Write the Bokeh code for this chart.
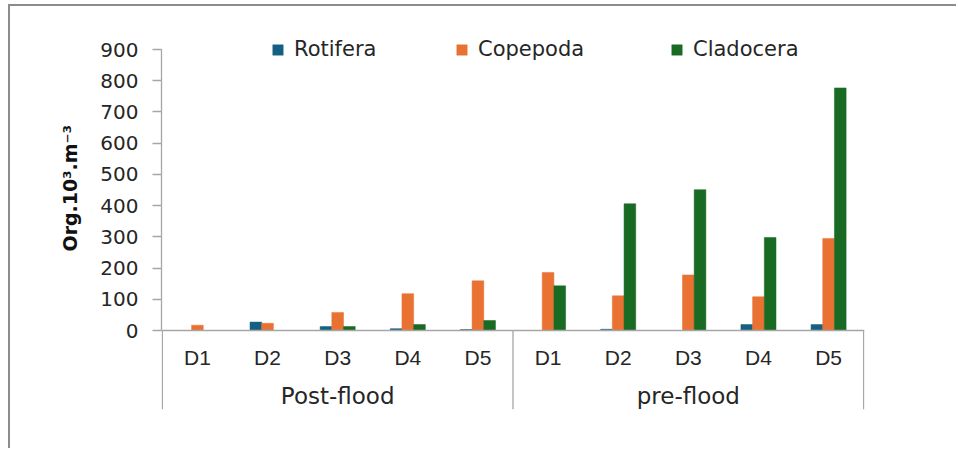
from bokeh.plotting import figure
from bokeh.models import FactorRange, FixedTicker, Span, Legend, LegendItem, ColumnDataSource, Range1d, Title
from bokeh.transform import dodge
from bokeh.core.properties import value
from bokeh.embed import file_html
from bokeh.resources import INLINE

# ---- data ----
groups = ["Post-flood", "pre-flood"]
days = ["D1", "D2", "D3", "D4", "D5"]
series = ["Rotifera", "Copepoda", "Cladocera"]
rotifera = [0, 27, 13, 6, 3, 0, 4, 0, 19, 19]
copepoda = [17, 23, 58, 118, 159, 186, 111, 178, 108, 295]
cladocera = [0, 0, 13, 19, 32, 143, 406, 451, 298, 777]
yticks = [0, 100, 200, 300, 400, 500, 600, 700, 800, 900]
y_label = "Org.10³.m⁻³"
colors = ["#156082", "#E97132", "#196B24"]

factors = [(g, d) for g in groups for d in days]

AXIS_COLOR = "#a6a6a6"
TEXT_COLOR = "#262626"

FRAME_H = 373
PX_PER_UNIT = 281 / 900.0
Y_BOTTOM = -253
Y_AXIS_TOP = 900
Y_TOP = Y_BOTTOM + FRAME_H / PX_PER_UNIT

x_range = FactorRange(*factors, factor_padding=0, group_padding=0, subgroup_padding=0,
                      range_padding=0.012, range_padding_units="absolute")

p = figure(
    x_range=x_range, y_range=Range1d(Y_BOTTOM, Y_TOP),
    width=946, height=442,
    frame_width=703, frame_height=FRAME_H,
    min_border_left=151, min_border_top=30, min_border_right=92, min_border_bottom=39,
    x_axis_location=None,
    output_backend="svg", toolbar_location=None,
)
p.styles = {"border-top": "2px solid #8c8c8c", "border-left": "2px solid #8c8c8c",
            "margin-left": "8px", "margin-top": "4px"}
p.outline_line_color = None
p.xgrid.visible = False
p.ygrid.visible = False
p.background_fill_color = "white"

src = ColumnDataSource(dict(x=factors, Rotifera=rotifera, Copepoda=copepoda, Cladocera=cladocera))

bar_w = 1.0 / 6
offsets = [-bar_w, 0, bar_w]
renderers = []
for s, c, off in zip(series, colors, offsets):
    r = p.vbar(x=dodge("x", off, range=p.x_range), top=s, width=bar_w, source=src,
               fill_color=c, line_color=c, line_width=0.5)
    renderers.append(r)

# y axis
ya = p.yaxis[0]
ya.ticker = FixedTicker(ticks=yticks)
ya.bounds = (0, Y_AXIS_TOP)
ya.minor_tick_line_color = None
ya.major_tick_in = 0
ya.major_tick_out = 9
ya.axis_line_color = AXIS_COLOR
ya.axis_line_width = 1.3
ya.major_tick_line_color = AXIS_COLOR
ya.major_tick_line_width = 1.3
ya.major_label_standoff = 14
ya.major_label_text_font = "DejaVu Sans"
ya.major_label_text_font_size = "20px"
ya.major_label_text_color = TEXT_COLOR

# y axis title placed alongside the 0..900 part of the axis
p.add_layout(Title(text=y_label, align="left", offset=158, standoff=34,
                   text_font="DejaVu Sans", text_font_style="bold",
                   text_font_size="19px", text_color="#111111"), "left")

# x axis line at zero
p.add_layout(Span(location=0, dimension="width", line_color=AXIS_COLOR, line_width=1.3))

# group separators (start of each group, end of last group)
sep_start = ColumnDataSource(dict(x=[(g, days[0]) for g in groups],
                                  y0=[0] * len(groups), y1=[Y_BOTTOM] * len(groups)))
p.segment(x0=dodge("x", -0.5, range=p.x_range), x1=dodge("x", -0.5, range=p.x_range),
          y0="y0", y1="y1", source=sep_start, line_color=AXIS_COLOR, line_width=1.3)
sep_end = ColumnDataSource(dict(x=[(groups[-1], days[-1])], y0=[0], y1=[Y_BOTTOM]))
p.segment(x0=dodge("x", 0.5, range=p.x_range), x1=dodge("x", 0.5, range=p.x_range),
          y0="y0", y1="y1", source=sep_end, line_color=AXIS_COLOR, line_width=1.3)

# category labels
day_y = -85
grp_y = -211
p.text(x=factors, y=[day_y] * len(factors), text=[f[1] for f in factors],
       text_font=value("Liberation Sans"), text_font_size="21px", text_color=TEXT_COLOR,
       text_align="center", text_baseline="middle")
p.text(x=[(g, days[2]) for g in groups], y=[grp_y] * len(groups), text=groups,
       text_font=value("DejaVu Sans"), text_font_size="23px", text_color=TEXT_COLOR,
       text_align="center", text_baseline="middle")

legend_x = [110, 294, 509]
for s, r, lx in zip(series, renderers, legend_x):
    lg = Legend(
        items=[LegendItem(label=s, renderers=[r])],
        orientation="horizontal", location=(lx, 348),
        glyph_width=13, glyph_height=13, label_standoff=10,
        padding=0, margin=0, border_line_color=None, background_fill_alpha=0,
        label_text_font="DejaVu Sans", label_text_font_size="21px", label_text_color=TEXT_COLOR,
    )
    p.add_layout(lg, "center")

open("out.html", "w").write(file_html(p, INLINE))
